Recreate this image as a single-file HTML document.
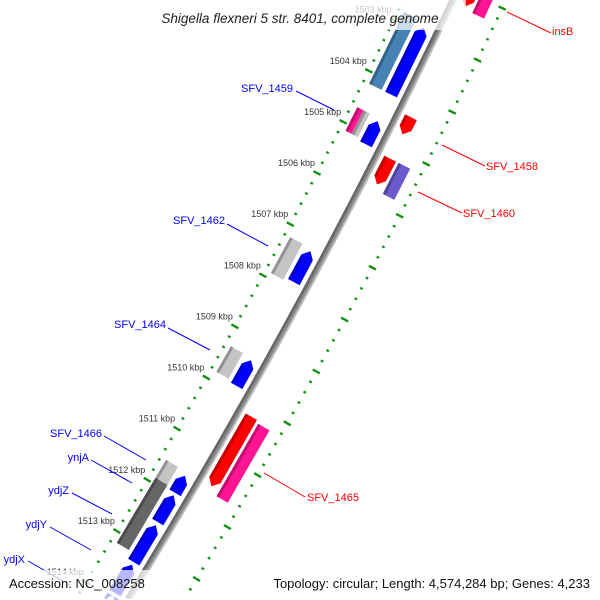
<!DOCTYPE html>
<html><head><meta charset="utf-8"><style>
html,body{margin:0;padding:0;background:#fff;width:600px;height:600px;overflow:hidden}
svg{display:block;font-family:"Liberation Sans",sans-serif;overflow:hidden}
</style></head><body>
<svg id="map" width="600" height="600" viewBox="0 0 600 600">
<g id="ticks"></g>
<g id="backbone"></g>
<g id="feats"></g>
<g id="ticklabels" font-size="9" fill="#333"></g>
<g font-size="11">
 <g stroke="#f00" stroke-width="1">
  <line x1="507" y1="12" x2="551" y2="33"/>
  <line x1="442" y1="145" x2="485" y2="166"/>
  <line x1="418" y1="192" x2="462" y2="213"/>
  <line x1="264" y1="473" x2="305" y2="497"/>
 </g>
 <g fill="#f00">
  <text x="552" y="35">insB</text>
  <text x="486" y="170">SFV_1458</text>
  <text x="463" y="217">SFV_1460</text>
  <text x="307" y="501">SFV_1465</text>
 </g>
 <g stroke="#00f" stroke-width="1">
  <line x1="296" y1="91" x2="334" y2="110"/>
  <line x1="227" y1="224" x2="268" y2="246"/>
  <line x1="168" y1="328" x2="210" y2="350"/>
  <line x1="104" y1="436" x2="146" y2="460"/>
  <line x1="91" y1="460" x2="132" y2="483"/>
  <line x1="72" y1="493" x2="112" y2="514"/>
  <line x1="50" y1="527" x2="91" y2="550"/>
  <line x1="28" y1="561" x2="70" y2="585"/>
 </g>
 <g fill="#00f" text-anchor="end">
  <text x="293" y="92">SFV_1459</text>
  <text x="225" y="224">SFV_1462</text>
  <text x="166" y="328">SFV_1464</text>
  <text x="102" y="437">SFV_1466</text>
  <text x="89" y="461">ynjA</text>
  <text x="69" y="494">ydjZ</text>
  <text x="47" y="528">ydjY</text>
  <text x="25" y="563">ydjX</text>
 </g>
</g>
<rect x="138" y="0" width="328" height="30" fill="#fff" opacity="0.72"/>
<text x="300" y="23" text-anchor="middle" font-size="13.5" font-style="italic" fill="#222">Shigella flexneri 5 str. 8401, complete genome</text>
<rect x="0" y="570" width="150" height="30" fill="#fff" opacity="0.72"/>
<rect x="256" y="570" width="344" height="30" fill="#fff" opacity="0.72"/>
<text x="9" y="588" font-size="13" fill="#111">Accession: NC_008258</text>
<text x="590" y="588" text-anchor="end" font-size="13" fill="#111">Topology: circular; Length: 4,574,284 bp; Genes: 4,233</text>
</svg>
<script>
// feature data (kbp positions)
const featStart = [1502.8, 1502.9, 1504.66, 1504.66, 1504.72, 1504.4, 1505.2, 1505.2, 1501.5, 1501.5, 1507.2, 1507.25, 1509.33, 1509.37, 1510.2, 1510.25, 1511.55, 1511.62, 1511.9, 1512.0, 1512.58, 1513.35, 1513.95];
const featEnd   = [1504.2, 1504.2, 1505.12, 1505.12, 1505.17, 1504.73, 1505.7, 1505.8, 1502.25, 1502.3, 1507.9, 1507.85, 1509.83, 1509.87, 1511.55, 1511.65, 1511.9, 1511.95, 1513.17, 1512.52, 1513.3, 1513.9, 1514.6];
const featRow   = ["gray", "blue", "grayOuter", "grayInner", "blue", "red", "red", "pink", "red", "pink", "gray", "blue", "gray", "blue", "red", "pink", "gray", "blue", "gray", "blue", "blue", "blue", "blue"];
const featColor = ["#4682b4", "#0000ff", "#ff1493", "#c4c4c4", "#0000ff", "#ff0000", "#ff0000", "#6a5acd", "#ff0000", "#ff1493", "#c4c4c4", "#0000ff", "#c4c4c4", "#0000ff", "#ff0000", "#ff1493", "#c4c4c4", "#0000ff", "#666666", "#0000ff", "#0000ff", "#0000ff", "#0000ff"];
const featStrand = [0, -1, 0, 0, -1, 1, 1, 0, 1, 0, 0, -1, 0, -1, 1, 0, 0, -1, 0, -1, -1, -1, -1];
const tickKbp = [1503, 1504, 1505, 1506, 1507, 1508, 1509, 1510, 1511, 1512, 1513, 1514];

const NS = "http://www.w3.org/2000/svg";
const YMAX = 599.5;
const rows = {blue: [-21, -8], gray: [-39, -25], grayOuter: [-39, -32], grayInner: [-32, -25], red: [7, 20], pink: [23, 36]};
function P(s, v) {
  const yb = 90.7 + (s - 1504) * 51.5;
  const xb = 453 - 0.4734 * yb - 0.0001146 * yb * yb;
  const d = 0.4734 + 2 * 0.0001146 * yb;
  const L = Math.hypot(1, d);
  return [xb + v / L, yb + v * d / L];
}
// largest s such that P(s, v).y stays inside the frame
function sLimit(v) {
  let s = 1516;
  while (P(s, v)[1] > YMAX) s -= 0.005;
  return s;
}
function pts(arr) { return arr.map(a => P(a[0], a[1]).map(n => n.toFixed(1)).join(",")).join(" "); }
function darker(c) {
  const n = parseInt(c.slice(1), 16);
  const r = (n >> 16) * 0.65, g = ((n >> 8) & 255) * 0.65, b = (n & 255) * 0.65;
  return "rgb(" + [r, g, b].map(Math.round).join(",") + ")";
}

// tick rings
const tg = document.getElementById("ticks");
for (let k = 0; k <= 70; k++) {
  const s = 1501 + k * 0.2;
  const major = k % 5 === 0;
  const h = major ? 4 : 1.4;
  [-45, 48].forEach(v => {
    const a = P(s, v - h), b = P(s, v + h);
    if (Math.max(a[1], b[1]) > YMAX - 1) return;
    const ln = document.createElementNS(NS, "line");
    ln.setAttribute("x1", a[0]); ln.setAttribute("y1", a[1]);
    ln.setAttribute("x2", b[0]); ln.setAttribute("y2", b[1]);
    ln.setAttribute("stroke", "#119111");
    ln.setAttribute("stroke-width", major ? 2.4 : 2.2);
    
    
    tg.appendChild(ln);
  });
}

// backbone
const bg = document.getElementById("backbone");
const bbLayers = [[-3.5, 0.5, "#666"], [-1, 2.5, "#888"], [1.5, 3.5, "#bbb"]];
bbLayers.forEach(l => {
  const sEnd = Math.min(sLimit(l[0]), sLimit(l[1]));
  const poly = [];
  for (let s = 1500.5; s < sEnd; s += 0.25) poly.push([s, l[0]]);
  poly.push([sEnd, l[0]]); poly.push([sEnd, l[1]]);
  for (let s = Math.floor((sEnd - 1500.5) / 0.25) * 0.25 + 1500.5; s >= 1500.5; s -= 0.25) poly.push([s, l[1]]);
  const p = document.createElementNS(NS, "polygon");
  p.setAttribute("points", pts(poly));
  p.setAttribute("fill", l[2]);
  
  
  bg.appendChild(p);
});

// features
const fg = document.getElementById("feats");
for (let i = 0; i < featStart.length; i++) {
  const [v1, v2] = rows[featRow[i]];
  const s1 = featStart[i];
  const s2 = Math.min(featEnd[i], sLimit(v1), sLimit(v2));
  const vm = (v1 + v2) / 2, h = 0.12;
  let shape;
  if (featStrand[i] === -1) shape = [[s2, v1], [s1 + h, v1], [s1, vm], [s1 + h, v2], [s2, v2]];
  else if (featStrand[i] === 1) shape = [[s1, v1], [s2 - h, v1], [s2, vm], [s2 - h, v2], [s1, v2]];
  else shape = [[s1, v1], [s2, v1], [s2, v2], [s1, v2]];
  const p = document.createElementNS(NS, "polygon");
  p.setAttribute("points", pts(shape));
  p.setAttribute("fill", featColor[i]);
  
  
  fg.appendChild(p);
  const e1 = featStrand[i] === 1 ? s2 - h : s2, e0 = featStrand[i] === -1 ? s1 + h : s1;
  const strip = document.createElementNS(NS, "polygon");
  strip.setAttribute("points", pts([[e0, v1], [e1, v1], [e1, v1 + 3], [e0, v1 + 3]]));
  strip.setAttribute("fill", darker(featColor[i]));
  strip.setAttribute("opacity", "0.7");
  
  
  fg.appendChild(strip);
}

// tick labels
const lg = document.getElementById("ticklabels");
tickKbp.forEach(k => {
  const t = P(k, -45);
  const tx = document.createElementNS(NS, "text");
  tx.setAttribute("x", (t[0] - 2).toFixed(1));
  tx.setAttribute("y", (t[1] - 7).toFixed(1));
  tx.setAttribute("text-anchor", "end");
  tx.textContent = k + " kbp";
  
  
  lg.appendChild(tx);
});
</script>
</body></html>
